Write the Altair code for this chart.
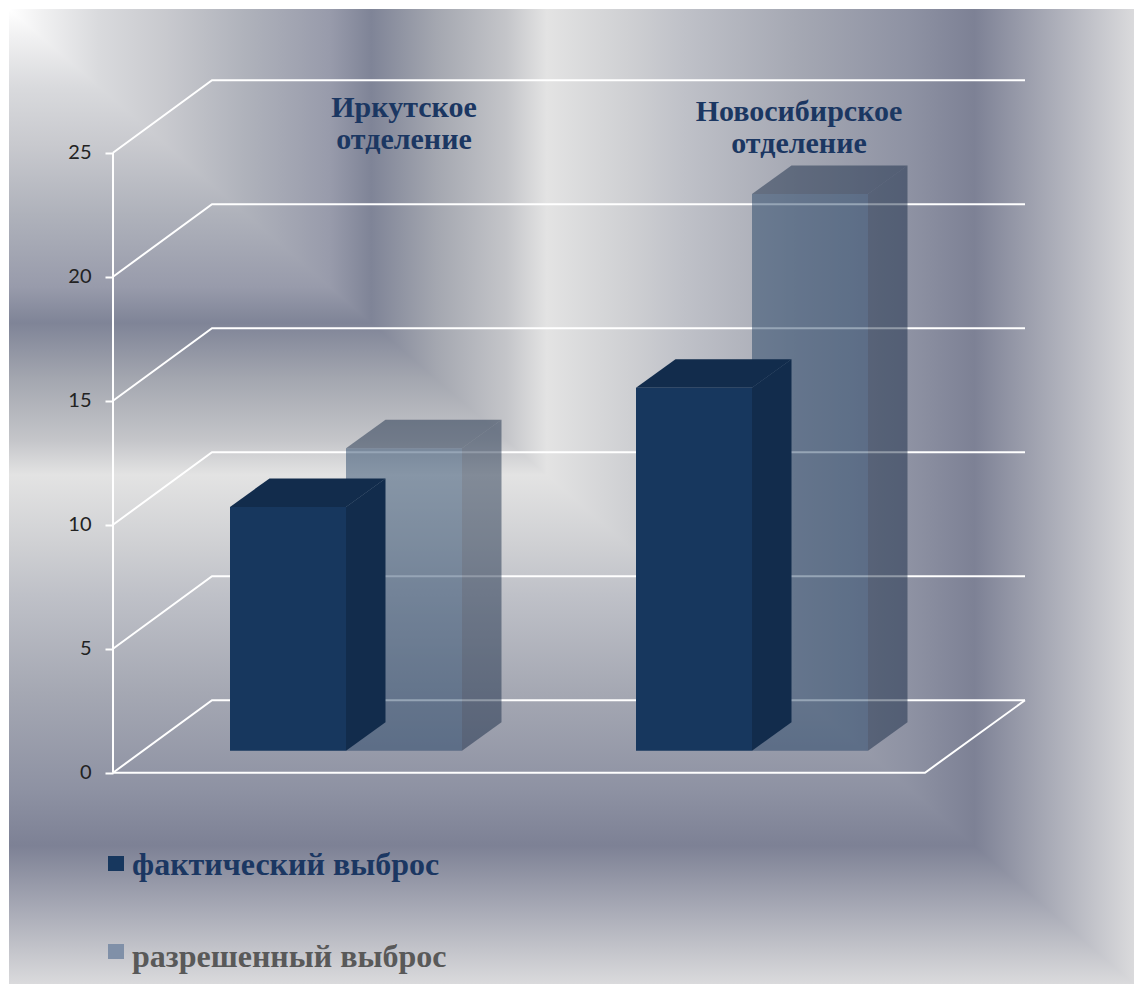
import altair as alt
import pandas as pd

# Chart values
branches = ["Иркутское", "Новосибирское"]
actual_emission = [9.83, 14.64]
allowed_emission = [12.2, 22.45]
axis_ticks = [0, 5, 10, 15, 20, 25]
series_names = ["фактический выброс", "разрешенный выброс"]
header_lines = [["Иркутское", "отделение"], ["Новосибирское", "отделение"]]

# Canvas and pseudo-3D geometry, in canvas units
W, H = 1134, 984
LEFT, TOP = 9, 9
ZERO_Y = 772.7
UNIT = 24.8
WALL_X, WALL_DX = 113, 99
WALL_DY = 72.4
FLOOR_RIGHT = 925
BAR_BASE_Y = 750.7
BAR_W = 116
BAR_DX, BAR_DY = 39.5, 28.5
SLOTS = [230, 636]

NAVY = "#17375e"
NAVY_DARK = "#122c4c"


def val(py):
    """Canvas y position expressed on the value scale."""
    return (ZERO_Y - py) / UNIT


x_scale = alt.Scale(domain=[0, W], nice=False, zero=False)
y_scale = alt.Scale(domain=[val(H), val(0)], nice=False, zero=False)
y_axis = alt.Axis(
    values=axis_ticks, offset=-WALL_X, grid=False, domain=False, title=None,
    tickColor="#ffffff", tickSize=8, tickWidth=2, labelPadding=14,
    labelFont="Lato", labelFontSize=20, labelColor="#222222", zindex=1,
    format="d",
)


def X(field="x"):
    return alt.X(f"{field}:Q", scale=x_scale, axis=None)


def Y(field="y"):
    return alt.Y(f"{field}:Q", scale=y_scale, axis=y_axis)


def gradient(horizontal):
    stops = [
        (0.00, "#ffffff"), (0.03, "#f0f0f1"), (0.08, "#d9dadd"), (0.14, "#c8c9ce"),
        (0.21, "#afb2bb"), (0.285, "#989bab"), (0.322, "#7f8497"), (0.38, "#a4a7b0"),
        (0.442, "#c4c5c9"), (0.478, "#e3e3e3"), (0.55, "#cfd0d3"), (0.60, "#bfc1c8"),
        (0.70, "#a5a8b3"), (0.80, "#8e92a3"), (0.858, "#7d8195"), (1.00, "#dadadc"),
    ]
    return {
        "gradient": "linear",
        "x1": 0, "y1": 0,
        "x2": 1 if horizontal else 0,
        "y2": 0 if horizontal else 1,
        "stops": [{"offset": o, "color": c} for o, c in stops],
    }


# Backdrop: a corner-centred rectangular gradient built from two pieces
backdrop = pd.DataFrame([{"x": LEFT, "x2": W, "y": val(TOP), "y2": val(H)}])
back_right = alt.Chart(backdrop).mark_rect(color=gradient(True)).encode(
    x=X(), x2="x2:Q", y=Y(), y2="y2:Q"
)
diag = pd.DataFrame({"x": [LEFT, W], "y": [val(TOP), val(H)], "y2": [val(H), val(H)]})
back_left = alt.Chart(diag).mark_area(color=gradient(False), interpolate="linear").encode(
    x=X(), y=Y(), y2="y2:Q"
)

# Wall grid: each level runs up the side wall, then along the back wall
grid_rows = []
for level in axis_ticks:
    lifted = level + WALL_DY / UNIT
    grid_rows += [
        {"level": level, "x": WALL_X, "y": level},
        {"level": level, "x": WALL_X + WALL_DX, "y": lifted},
        {"level": level, "x": 1025, "y": lifted},
    ]
grid = alt.Chart(pd.DataFrame(grid_rows)).mark_line(color="#ffffff", strokeWidth=2).encode(
    x=X(), y=Y(), detail="level:N"
)
floor_edge = alt.Chart(pd.DataFrame({
    "x": [WALL_X, FLOOR_RIGHT, 1025], "y": [0, 0, WALL_DY / UNIT],
})).mark_line(color="#ffffff", strokeWidth=2).encode(x=X(), y=Y())

# White spine of the value axis
spine = alt.Chart(pd.DataFrame({"x": [WALL_X], "y": [0], "y2": [max(axis_ticks)]})).mark_rule(
    color="#ffffff", strokeWidth=2
).encode(x=X(), y=Y(), y2="y2:Q")


def box_layers(values, offset, front, side, top, opacity):
    """Front, side and top faces of the boxes of one series."""
    base = val(BAR_BASE_Y)
    lift = BAR_DY / UNIT
    fronts, sides, tops = [], [], []
    for i, v in enumerate(values):
        x0 = SLOTS[i] + offset
        x1 = x0 + BAR_W
        fronts.append({"x": x0, "x2": x1, "y": base + v, "y2": base})
        sides += [
            {"box": i, "x": x1, "y": base + v, "y2": base},
            {"box": i, "x": x1 + BAR_DX, "y": base + v + lift, "y2": base + lift},
        ]
        tops += [
            {"box": i, "y": base + v, "x": x0, "x2": x1},
            {"box": i, "y": base + v + lift, "x": x0 + BAR_DX, "x2": x1 + BAR_DX},
        ]
    return [
        alt.Chart(pd.DataFrame(tops)).mark_area(
            color=top, opacity=opacity, orient="horizontal", interpolate="linear"
        ).encode(y=Y(), x=X(), x2="x2:Q", detail="box:N"),
        alt.Chart(pd.DataFrame(sides)).mark_area(
            color=side, opacity=opacity, interpolate="linear"
        ).encode(x=X(), y=Y(), y2="y2:Q", detail="box:N"),
        alt.Chart(pd.DataFrame(fronts)).mark_rect(color=front, opacity=opacity).encode(
            x=X(), x2="x2:Q", y=Y(), y2="y2:Q"
        ),
    ]


allowed_faces = box_layers(allowed_emission, BAR_W, NAVY, "#0a1e3c", "#0a1e3c", 0.45)
actual_faces = box_layers(actual_emission, 0, NAVY, NAVY_DARK, NAVY_DARK, 1)

# Branch captions above the boxes
caption_rows = []
for lines, cx, ys in zip(header_lines, [404, 799], [[117, 149], [121, 153]]):
    for line, py in zip(lines, ys):
        caption_rows.append({"x": cx, "y": val(py), "label": line})
captions = alt.Chart(pd.DataFrame(caption_rows)).mark_text(
    font="Liberation Serif", fontWeight="bold", fontSize=30, color="#1b3762",
    align="center", baseline="alphabetic",
).encode(x=X(), y=Y(), text="label:N")

# Hand-placed key below the plot
key_rows = [
    {"label": series_names[0], "x": 108, "x2": 124, "y": val(856), "y2": val(871),
     "ty": val(875), "swatch": "#17375e", "ink": "#1b3762"},
    {"label": series_names[1], "x": 108, "x2": 124, "y": val(944), "y2": val(959),
     "ty": val(967), "swatch": "#8090a8", "ink": "#595959"},
]
key_df = pd.DataFrame(key_rows)
key_swatches = alt.Chart(key_df).mark_rect().encode(
    x=X(), x2="x2:Q", y=Y(), y2="y2:Q",
    color=alt.Color("swatch:N", scale=None, legend=None),
)
key_labels = alt.Chart(key_df).mark_text(
    font="Liberation Serif", fontWeight="bold", fontSize=32,
    align="left", baseline="alphabetic", dx=24,
).encode(
    x=X(), y=Y("ty"), text="label:N",
    color=alt.Color("ink:N", scale=None, legend=None),
)

chart = alt.layer(
    back_right, back_left, grid, floor_edge, spine,
    *allowed_faces, *actual_faces, captions, key_swatches, key_labels,
).properties(
    width=W, height=H, padding=0, background="#ffffff",
    autosize=alt.AutoSizeParams(type="none"),
).configure_view(stroke=None)

chart.save("out.html", embed_options={"renderer": "svg", "actions": False})
